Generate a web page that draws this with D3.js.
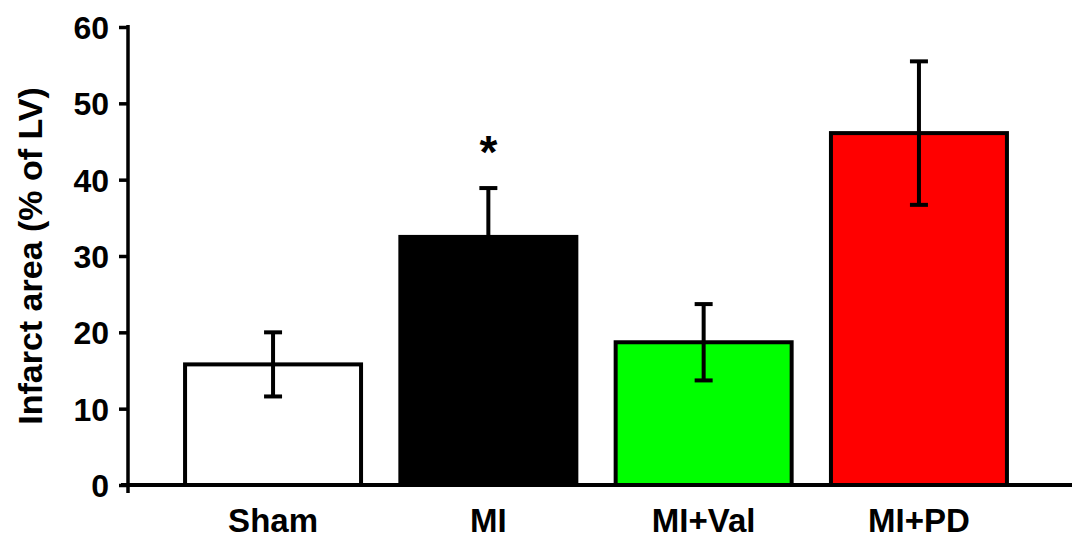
<!DOCTYPE html>
<html>
<head>
<meta charset="utf-8">
<script src="https://cdn.jsdelivr.net/npm/d3@7"></script>
<style>
  html, body { margin: 0; padding: 0; background: #fff; }
  svg { display: block; }
  text { font-family: "Liberation Sans", Arial, Helvetica, sans-serif; font-weight: bold; fill: #000; }
</style>
</head>
<body>
<svg id="chart" width="1072" height="538"></svg>
<script>
const categories = ["Sham", "MI", "MI+Val", "MI+PD"];
const means = [15.8, 32.5, 18.7, 46.1];
const errors = [4.2, 6.4, 5.0, 9.4];
const fills = ["#ffffff", "#000000", "#00ff00", "#ff0000"];
const significance = ["", "*", "", ""];
const yTicks = [0, 10, 20, 30, 40, 50, 60];
const yTitle = "Infarct area (% of LV)";

const svg = d3.select("#chart");

const y = d3.scaleLinear().domain([0, 60]).range([485, 27]);
const x = d3.scaleBand().domain(categories).range([140, 1052])
  .paddingInner(0.164).paddingOuter(0.2);

const data = categories.map((c, i) => ({ c, m: means[i], e: errors[i], f: fills[i], s: significance[i] }));

// bars
svg.append("g").selectAll("rect").data(data).join("rect")
  .attr("x", d => x(d.c) + 2)
  .attr("width", x.bandwidth() - 4)
  .attr("y", d => y(d.m))
  .attr("height", d => y(0) - y(d.m))
  .attr("fill", d => d.f)
  .attr("stroke", "#000")
  .attr("stroke-width", 4);

// error bars
const eb = svg.append("g").selectAll("g").data(data).join("g")
  .attr("stroke", "#000").attr("stroke-width", 4);
eb.append("line")
  .attr("x1", d => x(d.c) + x.bandwidth() / 2)
  .attr("x2", d => x(d.c) + x.bandwidth() / 2)
  .attr("y1", d => y(d.m - d.e))
  .attr("y2", d => y(d.m + d.e));
eb.append("line")
  .attr("x1", d => x(d.c) + x.bandwidth() / 2 - 9)
  .attr("x2", d => x(d.c) + x.bandwidth() / 2 + 9)
  .attr("y1", d => y(d.m + d.e))
  .attr("y2", d => y(d.m + d.e));
eb.append("line")
  .attr("x1", d => x(d.c) + x.bandwidth() / 2 - 9)
  .attr("x2", d => x(d.c) + x.bandwidth() / 2 + 9)
  .attr("y1", d => y(d.m - d.e))
  .attr("y2", d => y(d.m - d.e));

// significance marks
svg.append("g").selectAll("text").data(data.filter(d => d.s)).join("text")
  .attr("x", d => x(d.c) + x.bandwidth() / 2)
  .attr("y", d => y(d.m + d.e) - 20)
  .attr("text-anchor", "middle")
  .style("font-size", "46px")
  .text(d => d.s);

// y axis
const yAxis = svg.append("g")
  .attr("transform", "translate(128,0)")
  .call(d3.axisLeft(y).tickValues(yTicks).tickSize(9).tickSizeOuter(0).tickPadding(10));
yAxis.select(".domain").remove();
yAxis.selectAll(".tick line").attr("stroke", "#000").attr("stroke-width", 3.5);
yAxis.selectAll(".tick text").style("font-size", "32px").attr("dy", "0.36em");
svg.append("line")
  .attr("x1", 128).attr("x2", 128)
  .attr("y1", y(60) - 2).attr("y2", y(0) + 8)
  .attr("stroke", "#000").attr("stroke-width", 3.5);

// x axis
const xAxis = svg.append("g")
  .attr("transform", `translate(0,${y(0)})`)
  .call(d3.axisBottom(x).tickSize(0).tickPadding(24));
xAxis.select(".domain").remove();
xAxis.selectAll(".tick text").style("font-size", "33px");
svg.append("line")
  .attr("x1", 121).attr("x2", 1072)
  .attr("y1", y(0)).attr("y2", y(0))
  .attr("stroke", "#000").attr("stroke-width", 4);

// y title
svg.append("text")
  .attr("transform", `translate(42,${(y(0) + y(60)) / 2}) rotate(-90)`)
  .attr("text-anchor", "middle")
  .style("font-size", "34px")
  .text(yTitle);
</script>
</body>
</html>
